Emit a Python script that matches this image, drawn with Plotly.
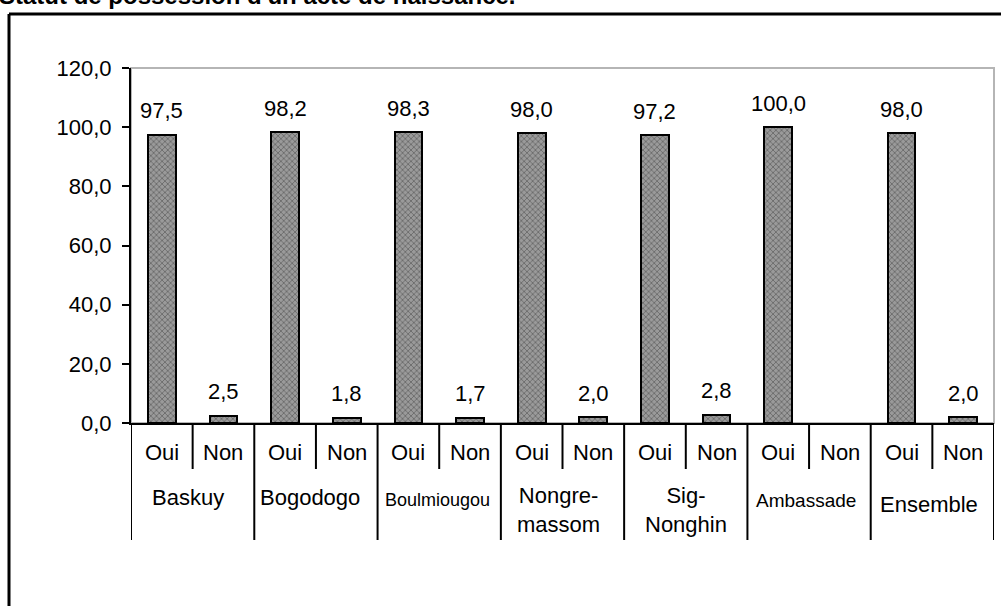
import plotly.graph_objects as go

# ---- data ----
groups = ["Baskuy", "Bogodogo", "Boulmiougou", "Nongre-<br>massom",
          "Sig-<br>Nonghin", "Ambassade", "Ensemble"]
group_font_sizes = [22, 22, 18, 22, 22, 19, 22]
responses = ["Oui", "Non"]
oui = [97.5, 98.2, 98.3, 98.0, 97.2, 100.0, 98.0]
non = [2.5, 1.8, 1.7, 2.0, 2.8, None, 2.0]
y_ticks = [0, 20, 40, 60, 80, 100, 120]
y_tick_labels = ["0,0", "20,0", "40,0", "60,0", "80,0", "100,0", "120,0"]
title_text = "Statut de possession d'un acte de naissance."

FONT = "Arial, 'Liberation Sans', sans-serif"

# flatten into 14 categories
cats, vals = [], []
for g, o, n in zip(groups, oui, non):
    cats.append(g + "|Oui")
    vals.append(o)
    cats.append(g + "|Non")
    vals.append(n)

def fmt(v):
    return f"{v:.1f}".replace(".", ",")

fig = go.Figure()
fig.add_trace(go.Bar(
    x=cats, y=vals, width=0.45,
    marker=dict(color="#8c8c8c",
                line=dict(color="black", width=2),
                pattern=dict(shape="x", fgcolor="#3c3c3c", bgcolor="#9a9a9a",
                             size=4, solidity=0.4)),
    hoverinfo="x+y", showlegend=False,
))

# plot-area geometry (px) for paper conversion
W, H = 1001, 606
ML, MR, MT, MB = 131, 7, 68, 183
PW, PH = W - ML - MR, H - MT - MB
def py(px_y):
    return (H - MB - px_y) / PH
def px(px_x):
    return (px_x - ML) / PW

annotations = []
# data labels
for c, v in zip(cats, vals):
    if v is None:
        continue
    annotations.append(dict(x=c, y=v, xref="x", yref="y", text=fmt(v),
                            showarrow=False, yanchor="middle", yshift=24,
                            font=dict(family=FONT, size=22, color="black")))
# Oui / Non labels
for c in cats:
    annotations.append(dict(x=c, y=py(453), xref="x", yref="paper",
                            text=c.split("|")[1], showarrow=False,
                            yanchor="middle",
                            font=dict(family=FONT, size=22, color="black")))
# group labels
group_xshift = [-5, -6, -2, -4, 0, -3, -3]
for i, (g, fs) in enumerate(zip(groups, group_font_sizes)):
    two = "<br>" in g
    ypos = 510 if two else (500 if fs < 20 else 497)
    if g == "Ensemble":
        ypos = 505
    annotations.append(dict(x=2 * i + 0.5, y=py(ypos), xref="x", yref="paper",
                            text=g, showarrow=False, yanchor="middle",
                            xshift=group_xshift[i],
                            font=dict(family=FONT, size=fs, color="black")))
# title (partly cut off at the top)
annotations.append(dict(x=px(-3), y=py(11), xref="paper", yref="paper",
                        text="<b>" + title_text + "</b>", showarrow=False,
                        xanchor="left", yanchor="bottom",
                        font=dict(family=FONT, size=24, color="black")))

shapes = []
# plot area gray border
shapes.append(dict(type="rect", xref="paper", yref="paper", x0=0, x1=1, y0=0, y1=1,
                   line=dict(color="#b5b5b5", width=2), layer="below"))
# separators under the axis
for i in range(len(cats) + 1):
    y1 = py(540) if i % 2 == 0 else py(469)
    shapes.append(dict(type="line", xref="x", yref="paper", x0=i - 0.5, x1=i - 0.5,
                       y0=0, y1=y1, line=dict(color="black", width=2)))
# outer frame
shapes.append(dict(type="line", xref="paper", yref="paper",
                   x0=px(9), x1=px(1010), y0=py(14), y1=py(14),
                   line=dict(color="black", width=3)))
shapes.append(dict(type="line", xref="paper", yref="paper",
                   x0=px(9), x1=px(9), y0=py(14), y1=py(620),
                   line=dict(color="black", width=3)))

fig.update_layout(
    width=W, height=H,
    margin=dict(l=ML, r=MR, t=MT, b=MB, pad=0),
    paper_bgcolor="white", plot_bgcolor="white",
    font=dict(family=FONT, size=22, color="black"),
    annotations=annotations, shapes=shapes,
    xaxis=dict(type="category", categoryorder="array", categoryarray=cats,
               range=[-0.5, len(cats) - 0.5], showticklabels=False, ticks="",
               showgrid=False, zeroline=False, showline=True,
               linecolor="black", linewidth=2),
    yaxis=dict(range=[0, 120], tickmode="array", tickvals=y_ticks,
               ticktext=y_tick_labels, ticks="outside", ticklen=7, tickwidth=2,
               tickcolor="black", showline=True, linecolor="black", linewidth=2,
               showgrid=False, zeroline=False, ticklabelstandoff=6,
               tickfont=dict(family=FONT, size=22, color="black")),
    bargap=0,
)

fig.write_html("out.html", config={"displayModeBar": False},
               post_script="document.body.style.margin='0';document.body.style.overflow='hidden';")
